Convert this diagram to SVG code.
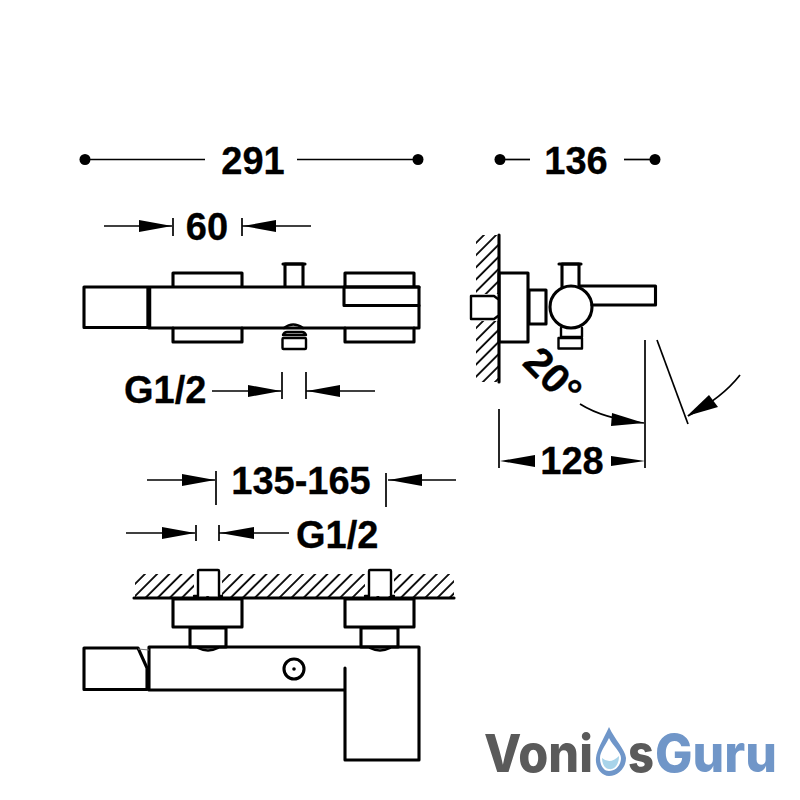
<svg xmlns="http://www.w3.org/2000/svg" width="800" height="800" viewBox="0 0 800 800">
<style>
.o{fill:none;stroke:#000;stroke-width:2.4;stroke-linejoin:round;stroke-linecap:round}
.m{fill:none;stroke:#000;stroke-width:3.1;stroke-linejoin:round;stroke-linecap:round}
.d{fill:none;stroke:#000;stroke-width:1.7}
.a{fill:#000;stroke:none}
.t{font-family:"Liberation Sans",Arial,sans-serif;font-weight:700;font-size:38px;fill:#000;stroke:#000;stroke-width:.3}
.c{text-anchor:middle}
.l{font-family:"Inter","Open Sans",sans-serif;font-weight:800;font-size:52px}
</style>
<defs>
<pattern id="hatch" width="8.600" height="9" patternUnits="userSpaceOnUse" patternTransform="rotate(45)"><line x1="1" y1="0" x2="1" y2="9" stroke="#000" stroke-width="1.800"/></pattern>
</defs>
<g id="connectors">
<circle class="a" cx="85" cy="159.500" r="5.500"/><line class="d" x1="85" y1="159.500" x2="205" y2="159.500"/>
<line class="d" x1="297" y1="159.500" x2="418" y2="159.500"/><circle class="a" cx="418" cy="159.500" r="5.500"/>
<circle class="a" cx="500" cy="159.500" r="5.500"/><line class="d" x1="500" y1="159.500" x2="530" y2="159.500"/>
<line class="d" x1="624" y1="159.500" x2="655" y2="159.500"/><circle class="a" cx="655" cy="159.500" r="5.500"/>
<line class="d" x1="104" y1="226" x2="172" y2="226"/><path class="a" d="M139 220L172 226L139 232Z"/><line class="d" x1="173" y1="218" x2="173" y2="236"/>
<line class="d" x1="242" y1="218" x2="242" y2="236"/><line class="d" x1="242" y1="226" x2="311" y2="226"/><path class="a" d="M276 220L243 226L276 232Z"/>
<line class="d" x1="212" y1="391" x2="281" y2="391"/><path class="a" d="M248 385L281 391L248 397Z"/><line class="d" x1="282" y1="372" x2="282" y2="399"/>
<line class="d" x1="306" y1="372" x2="306" y2="399"/><line class="d" x1="306" y1="391" x2="375" y2="391"/><path class="a" d="M340 385L307 391L340 397Z"/>
<line class="d" x1="147" y1="480" x2="215" y2="480"/><path class="a" d="M182 474L215 480L182 486Z"/><line class="d" x1="216" y1="471" x2="216" y2="505"/>
<line class="d" x1="386" y1="473" x2="386" y2="507"/><line class="d" x1="388" y1="480" x2="456" y2="480"/><path class="a" d="M422 474L389 480L422 486Z"/>
<line class="d" x1="126" y1="533" x2="195" y2="533"/><path class="a" d="M162 527L195 533L162 539Z"/><line class="d" x1="196" y1="525" x2="196" y2="541"/>
<line class="d" x1="219" y1="525" x2="219" y2="541"/><line class="d" x1="219" y1="533" x2="289" y2="533"/><path class="a" d="M254 527L220 533L254 539Z"/>
<line class="d" x1="645" y1="340" x2="645" y2="468"/><line class="d" x1="499" y1="409" x2="499" y2="468"/>
<path class="a" d="M500 461L535 455L535 467Z"/><path class="a" d="M645 461L611 456L611 466Z"/>
<line class="d" x1="657" y1="340" x2="688" y2="424"/>
<path class="d" d="M580 404Q604 419 644 423"/><path class="a" d="M644 423L611 426L612 413Z"/>
<path class="d" d="M740 375Q722 398 688 416"/><path class="a" d="M687 416L709 395L718 407Z"/>
</g>
<g id="text-labels">
<text class="t c" x="253" y="174">291</text>
<text class="t c" x="576" y="174">136</text>
<text class="t c" x="207" y="240">60</text>
<text class="t" x="124" y="403">G1/2</text>
<text class="t c" x="572" y="474">128</text>
<text class="t c" x="301" y="494">135-165</text>
<text class="t" x="296" y="548">G1/2</text>
<text class="t c" style="font-size:41px" transform="translate(543 386) rotate(45)">20°</text>
</g>
<g id="front-view">
<path class="m" d="M173 286V273H242V286M173 328V342H242V328"/>
<path class="m" d="M345 286V273H414V286M345 328V342H414V328"/>
<path class="m" d="M285 286V264H303V286"/><path class="m" d="M283 264H305"/>
<rect class="m" x="84" y="287" width="64" height="40.500"/>
<rect class="m" x="149" y="287" width="270" height="41"/>
<line x1="149" y1="286" x2="149" y2="329" stroke="#000" stroke-width="4.500"/>
<path class="m" d="M419 287H344V305.500H419"/>
<path class="o" d="M284 328Q293 321 303 328M283 335Q284 332 287 332H302Q305 332 306 335Z"/><rect class="o" x="282.500" y="338" width="23.500" height="11" rx="1"/>
</g>
<g id="side-view">
<rect x="476" y="235" width="23" height="147" fill="url(#hatch)"/>
<line class="m" x1="499" y1="235" x2="499" y2="382"/>
<path d="M466 294H498V321H466Z" fill="#fff"/>
<path class="o" d="M494 296H471V319H494L498 316M494 296L498 299" fill="#fff"/>
<rect class="m" x="499" y="273" width="29" height="69"/>
<rect class="m" x="529" y="290" width="17" height="34"/>
<path class="m" d="M562 287V264H579V287"/><path class="m" d="M559 264H581"/>
<path class="m" d="M580 286H655.500V305H592"/><circle class="m" cx="571" cy="307" r="21" fill="#fff"/>
<path class="o" d="M561 328V337H582V328M558.500 338H582V348.500H558.500Z"/>
</g>
<g id="bottom-view">
<rect x="135" y="574" width="319" height="24" fill="url(#hatch)"/>
<line class="m" x1="134" y1="598" x2="454" y2="598"/>
<path d="M194 568H222V596H194Z" fill="#fff"/><path d="M365 568H394V596H365Z" fill="#fff"/>
<path class="o" d="M194 596H198V571Q198 570 199 570H218Q219 570 219 571V596H222"/>
<path class="o" d="M365 596H369V571Q369 570 370 570H390Q391 570 391 571V596H394"/>
<rect class="m" x="173" y="599" width="69" height="28"/><rect class="m" x="345" y="599" width="69" height="28"/>
<rect class="m" x="190" y="628" width="36" height="19"/><rect class="m" x="361" y="628" width="37" height="19"/>
<path class="o" d="M198 648Q208 653 218 648M370 648Q380 653 390 648"/>
<path class="m" d="M149 647H419V760H345V668M149 647V690H345"/>
<path class="m" d="M84 648H138L147 668V689.500H84Z"/>
<line x1="138" y1="649" x2="149" y2="650" stroke="#777" stroke-width="1.200"/>
<circle class="m" cx="294" cy="669" r="10"/><circle class="a" cx="294" cy="669" r="1.800"/>
</g>
<g id="logo">
<text class="l" x="484" y="772" fill="#5a5a5a" textLength="109" lengthAdjust="spacingAndGlyphs">Voni</text>
<text class="l" x="628" y="772" fill="#5a5a5a" textLength="26" lengthAdjust="spacingAndGlyphs">s</text>
<text class="l" x="655" y="772" fill="#7096c8" textLength="122" lengthAdjust="spacingAndGlyphs">Guru</text>
<path d="M609 727C603 740 597 749 596 758C595 767 601 776 609 776C618 776 626 768 626 758C625 749 615 740 609 727Z" fill="#6f96c9"/>
<path d="M609 738C605 746 600 752 600 758C600 766 604 771 609 771C616 771 621 765 621 758C621 752 613 746 609 738Z" fill="#fff"/>
<path d="M602 758Q610 765 619 756C619 766 613 770 609 769C605 769 602 764 602 758Z" fill="#a8d4ea"/>
</g>
</svg>
